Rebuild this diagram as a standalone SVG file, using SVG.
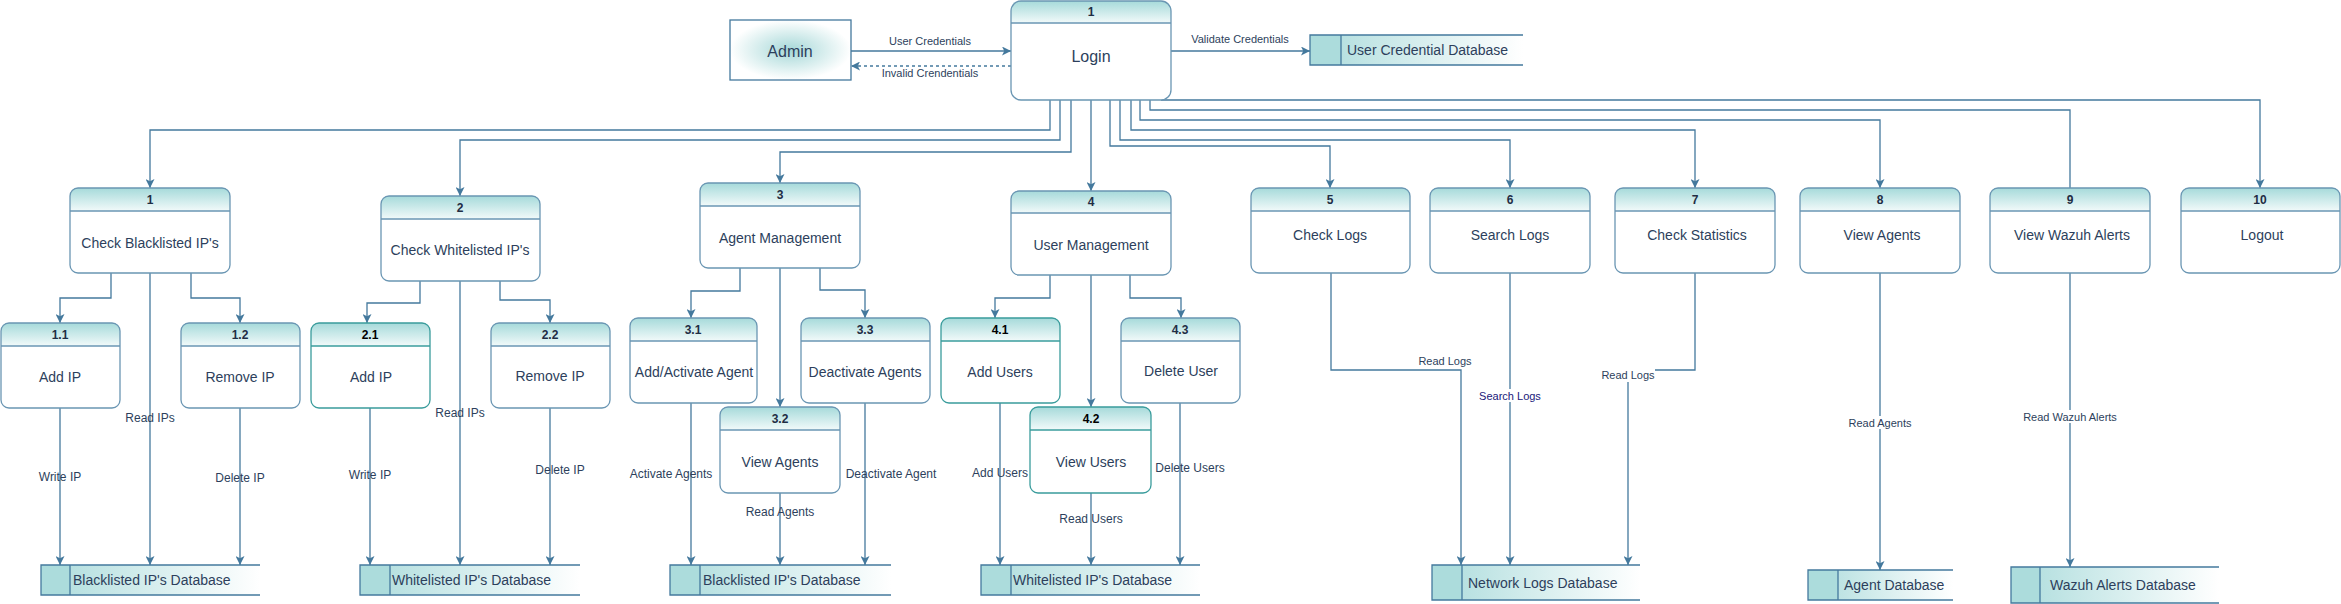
<svg xmlns="http://www.w3.org/2000/svg" width="2341" height="604" viewBox="0 0 2341 604">
<defs>
<linearGradient id="hdr" x1="0" y1="0" x2="0" y2="1"><stop offset="0" stop-color="#a6dada"/><stop offset="1" stop-color="#f2fafa"/></linearGradient>
<linearGradient id="dbg" x1="0" y1="0" x2="1" y2="0"><stop offset="0" stop-color="#acdcdc"/><stop offset="1" stop-color="#ffffff"/></linearGradient>
<radialGradient id="adm" cx="0.5" cy="0.5" r="0.5"><stop offset="0" stop-color="#a6d8d8"/><stop offset="1" stop-color="#ffffff"/></radialGradient>
<marker id="arr" viewBox="0 0 10 10" refX="10" refY="5" markerWidth="9" markerHeight="9" orient="auto" markerUnits="userSpaceOnUse"><path d="M0,0 L10,5 L0,10 L2.5,5 Z" fill="#44799d"/></marker>
</defs>
<style>
.bg{fill:#fff;stroke:none}
.ol{fill:none;stroke:#6a96b3;stroke-width:1.3}
.olt{fill:none;stroke:#3a9c9c;stroke-width:1.3}
.hd{fill:url(#hdr);stroke:none}
.sep{stroke:#6a96b3;stroke-width:1.3}
.sept{stroke:#3a9c9c;stroke-width:1.3}
.num{font-family:"Liberation Sans",Arial,sans-serif;font-size:12px;font-weight:bold;fill:#1f2d44;text-anchor:middle}
.numk{font-family:"Liberation Sans",Arial,sans-serif;font-size:12px;font-weight:bold;fill:#000;text-anchor:middle}
.lbl{font-family:"Liberation Sans",Arial,sans-serif;font-size:14px;fill:#2d3f5c;text-anchor:middle}
.big{font-family:"Liberation Sans",Arial,sans-serif;font-size:16px;fill:#2d3f5c;text-anchor:middle}
.dbt{font-family:"Liberation Sans",Arial,sans-serif;font-size:14px;fill:#2d3f5c}
.el{font-family:"Liberation Sans",Arial,sans-serif;font-size:11px;fill:#2d3f5c;text-anchor:middle}
.el12{font-family:"Liberation Sans",Arial,sans-serif;font-size:12px;fill:#2d3f5c;text-anchor:middle}
.navy{fill:#20207a}
.cn{fill:none;stroke:#44799d;stroke-width:1.3}
.ar{marker-end:url(#arr)}
.dash{stroke-dasharray:3,3}
.dbf{fill:url(#dbg);stroke:none}
.dbb{fill:#acdcdc;stroke:none}
.dbl{fill:none;stroke:#44799d;stroke-width:1.3}
.lb{fill:#fff}
</style>

<g id="connectors">
<path class="cn ar" d="M851,51 H1011"/>
<path class="cn ar dash" d="M1011,66 H851"/>
<path class="cn ar" d="M1171,51 H1310"/>
<path class="cn ar" d="M1050,100 V130 H150 V188"/>
<path class="cn ar" d="M1060,100 V140 H460 V196"/>
<path class="cn ar" d="M1071,100 V152 H780 V183"/>
<path class="cn ar" d="M1091,100 V191"/>
<path class="cn ar" d="M1110,100 V146 H1330 V188"/>
<path class="cn ar" d="M1120,100 V140 H1510 V188"/>
<path class="cn ar" d="M1131,100 V130 H1695 V188"/>
<path class="cn ar" d="M1140,100 V120 H1880 V188"/>
<path class="cn" d="M1150,100 V110 H2070 V188"/>
<path class="cn ar" d="M1161,100 H2260 V188"/>
<path class="cn ar" d="M111,273 V298 H60 V323"/>
<path class="cn ar" d="M191,273 V298 H240 V323"/>
<path class="cn ar" d="M150,273 V565"/>
<path class="cn ar" d="M60,408 V565"/>
<path class="cn ar" d="M240,408 V565"/>
<path class="cn ar" d="M420,281 V303 H367 V323"/>
<path class="cn ar" d="M500,281 V300 H550 V323"/>
<path class="cn ar" d="M460,281 V565"/>
<path class="cn ar" d="M370,408 V565"/>
<path class="cn ar" d="M550,408 V565"/>
<path class="cn ar" d="M740,268 V291 H691 V318"/>
<path class="cn ar" d="M820,268 V290 H865 V318"/>
<path class="cn ar" d="M780,268 V407"/>
<path class="cn ar" d="M691,403 V565"/>
<path class="cn ar" d="M780,493 V565"/>
<path class="cn ar" d="M865,403 V565"/>
<path class="cn ar" d="M1050,275 V298 H995 V318"/>
<path class="cn ar" d="M1130,275 V298 H1181 V318"/>
<path class="cn ar" d="M1091,275 V407"/>
<path class="cn ar" d="M1000,403 V565"/>
<path class="cn ar" d="M1091,493 V565"/>
<path class="cn ar" d="M1180,403 V565"/>
<path class="cn ar" d="M1331,273 V370 H1461 V565"/>
<path class="cn ar" d="M1510,273 V565"/>
<path class="cn ar" d="M1695,273 V370 H1628 V565"/>
<path class="cn ar" d="M1880,273 V570"/>
<path class="cn ar" d="M2070,273 V567"/>
<text class="el" x="930" y="45">User Credentials</text>
<text class="el" x="930" y="77">Invalid Crendentials</text>
<text class="el" x="1240" y="43">Validate Credentials</text>
<text class="el12" x="150" y="422">Read IPs</text>
<text class="el12" x="60" y="481">Write IP</text>
<text class="el12" x="240" y="482">Delete IP</text>
<text class="el12" x="460" y="417">Read IPs</text>
<text class="el12" x="370" y="479">Write IP</text>
<text class="el12" x="560" y="474">Delete IP</text>
<text class="el12" x="671" y="478">Activate Agents</text>
<text class="el12" x="891" y="478">Deactivate Agent</text>
<text class="el12" x="780" y="516">Read Agents</text>
<text class="el12" x="1000" y="477">Add Users</text>
<text class="el12" x="1091" y="523">Read Users</text>
<text class="el12" x="1190" y="472">Delete Users</text>
<text class="el" x="1445" y="365">Read Logs</text>
<rect class="lb" x="1480" y="389" width="60" height="13"/>
<text class="el navy" x="1510" y="400">Search Logs</text>
<rect class="lb" x="1601" y="369" width="54" height="13"/>
<text class="el" x="1628" y="379">Read Logs</text>
<rect class="lb" x="1849" y="416" width="62" height="13"/>
<text class="el" x="1880" y="427">Read Agents</text>
<rect class="lb" x="2023" y="410" width="94" height="13"/>
<text class="el" x="2070" y="421">Read Wazuh Alerts</text>
</g>

<g id="admin">
<rect x="730" y="20" width="121" height="60" fill="url(#adm)" stroke="#44799d" stroke-width="1.3"/>
<text class="big" x="790" y="57">Admin</text>
</g>

<g id="login">
<rect class="bg" x="1011" y="1" width="160" height="99" rx="10"/>
<path class="hd" d="M1011,23 V11 Q1011,1 1021,1 H1161 Q1171,1 1171,11 V23 Z"/>
<line class="sep" x1="1011" y1="23" x2="1171" y2="23"/>
<rect class="ol" x="1011" y="1" width="160" height="99" rx="10" stroke="#4f7f9f"/>
<text class="num" x="1091" y="16">1</text>
<text class="big" x="1091" y="62">Login</text>
</g>

<g id="db-usercred">
<rect class="dbf" x="1310" y="35" width="213" height="30"/>
<rect class="dbb" x="1310" y="35" width="31" height="30"/>
<path class="dbl" d="M1523,35 H1310 V65 H1523 M1341,35 V65"/>
<text class="dbt" x="1347" y="55">User Credential Database</text>
</g>

<g id="p1">
<rect class="bg" x="70" y="188" width="160" height="85" rx="8"/>
<path class="hd" d="M70,211 V196 Q70,188 78,188 H222 Q230,188 230,196 V211 Z"/>
<line class="sep" x1="70" y1="211" x2="230" y2="211"/>
<rect class="ol" x="70" y="188" width="160" height="85" rx="8"/>
<text class="num" x="150" y="204">1</text>
<text class="lbl" x="150" y="248">Check Blacklisted IP's</text>
</g>
<g id="p2">
<rect class="bg" x="381" y="196" width="159" height="85" rx="8"/>
<path class="hd" d="M381,219 V204 Q381,196 389,196 H532 Q540,196 540,204 V219 Z"/>
<line class="sep" x1="381" y1="219" x2="540" y2="219"/>
<rect class="ol" x="381" y="196" width="159" height="85" rx="8"/>
<text class="num" x="460" y="212">2</text>
<text class="lbl" x="460" y="255">Check Whitelisted IP's</text>
</g>
<g id="p3">
<rect class="bg" x="700" y="183" width="160" height="85" rx="8"/>
<path class="hd" d="M700,206 V191 Q700,183 708,183 H852 Q860,183 860,191 V206 Z"/>
<line class="sep" x1="700" y1="206" x2="860" y2="206"/>
<rect class="ol" x="700" y="183" width="160" height="85" rx="8"/>
<text class="num" x="780" y="199">3</text>
<text class="lbl" x="780" y="243">Agent Management</text>
</g>
<g id="p4">
<rect class="bg" x="1011" y="191" width="160" height="84" rx="8"/>
<path class="hd" d="M1011,213 V199 Q1011,191 1019,191 H1163 Q1171,191 1171,199 V213 Z"/>
<line class="sep" x1="1011" y1="213" x2="1171" y2="213"/>
<rect class="ol" x="1011" y="191" width="160" height="84" rx="8"/>
<text class="num" x="1091" y="206">4</text>
<text class="lbl" x="1091" y="250">User Management</text>
</g>
<g id="p5">
<rect class="bg" x="1251" y="188" width="159" height="85" rx="8"/>
<path class="hd" d="M1251,211 V196 Q1251,188 1259,188 H1402 Q1410,188 1410,196 V211 Z"/>
<line class="sep" x1="1251" y1="211" x2="1410" y2="211"/>
<rect class="ol" x="1251" y="188" width="159" height="85" rx="8"/>
<text class="num" x="1330" y="204">5</text>
<text class="lbl" x="1330" y="240">Check Logs</text>
</g>
<g id="p6">
<rect class="bg" x="1430" y="188" width="160" height="85" rx="8"/>
<path class="hd" d="M1430,211 V196 Q1430,188 1438,188 H1582 Q1590,188 1590,196 V211 Z"/>
<line class="sep" x1="1430" y1="211" x2="1590" y2="211"/>
<rect class="ol" x="1430" y="188" width="160" height="85" rx="8"/>
<text class="num" x="1510" y="204">6</text>
<text class="lbl" x="1510" y="240">Search Logs</text>
</g>
<g id="p7">
<rect class="bg" x="1615" y="188" width="160" height="85" rx="8"/>
<path class="hd" d="M1615,211 V196 Q1615,188 1623,188 H1767 Q1775,188 1775,196 V211 Z"/>
<line class="sep" x1="1615" y1="211" x2="1775" y2="211"/>
<rect class="ol" x="1615" y="188" width="160" height="85" rx="8"/>
<text class="num" x="1695" y="204">7</text>
<text class="lbl" x="1697" y="240">Check Statistics</text>
</g>
<g id="p8">
<rect class="bg" x="1800" y="188" width="160" height="85" rx="8"/>
<path class="hd" d="M1800,211 V196 Q1800,188 1808,188 H1952 Q1960,188 1960,196 V211 Z"/>
<line class="sep" x1="1800" y1="211" x2="1960" y2="211"/>
<rect class="ol" x="1800" y="188" width="160" height="85" rx="8"/>
<text class="num" x="1880" y="204">8</text>
<text class="lbl" x="1882" y="240">View Agents</text>
</g>
<g id="p9">
<rect class="bg" x="1990" y="188" width="160" height="85" rx="8"/>
<path class="hd" d="M1990,211 V196 Q1990,188 1998,188 H2142 Q2150,188 2150,196 V211 Z"/>
<line class="sep" x1="1990" y1="211" x2="2150" y2="211"/>
<rect class="ol" x="1990" y="188" width="160" height="85" rx="8"/>
<text class="num" x="2070" y="204">9</text>
<text class="lbl" x="2072" y="240">View Wazuh Alerts</text>
</g>
<g id="p10">
<rect class="bg" x="2181" y="188" width="159" height="85" rx="8"/>
<path class="hd" d="M2181,211 V196 Q2181,188 2189,188 H2332 Q2340,188 2340,196 V211 Z"/>
<line class="sep" x1="2181" y1="211" x2="2340" y2="211"/>
<rect class="ol" x="2181" y="188" width="159" height="85" rx="8"/>
<text class="num" x="2260" y="204">10</text>
<text class="lbl" x="2262" y="240">Logout</text>
</g>

<g id="p1-1">
<rect class="bg" x="1" y="323" width="119" height="85" rx="8"/>
<path class="hd" d="M1,346 V331 Q1,323 9,323 H112 Q120,323 120,331 V346 Z"/>
<line class="sep" x1="1" y1="346" x2="120" y2="346"/>
<rect class="ol" x="1" y="323" width="119" height="85" rx="8"/>
<text class="num" x="60" y="339">1.1</text>
<text class="lbl" x="60" y="382">Add IP</text>
</g>
<g id="p1-2">
<rect class="bg" x="181" y="323" width="119" height="85" rx="8"/>
<path class="hd" d="M181,346 V331 Q181,323 189,323 H292 Q300,323 300,331 V346 Z"/>
<line class="sep" x1="181" y1="346" x2="300" y2="346"/>
<rect class="ol" x="181" y="323" width="119" height="85" rx="8"/>
<text class="num" x="240" y="339">1.2</text>
<text class="lbl" x="240" y="382">Remove IP</text>
</g>
<g id="p2-1">
<rect class="bg" x="311" y="323" width="119" height="85" rx="8"/>
<path class="hd" d="M311,346 V331 Q311,323 319,323 H422 Q430,323 430,331 V346 Z"/>
<line class="sept" x1="311" y1="346" x2="430" y2="346"/>
<rect class="olt" x="311" y="323" width="119" height="85" rx="8"/>
<text class="numk" x="370" y="339">2.1</text>
<text class="lbl" x="371" y="382">Add IP</text>
</g>
<g id="p2-2">
<rect class="bg" x="491" y="323" width="119" height="85" rx="8"/>
<path class="hd" d="M491,346 V331 Q491,323 499,323 H602 Q610,323 610,331 V346 Z"/>
<line class="sep" x1="491" y1="346" x2="610" y2="346"/>
<rect class="ol" x="491" y="323" width="119" height="85" rx="8"/>
<text class="num" x="550" y="339">2.2</text>
<text class="lbl" x="550" y="381">Remove IP</text>
</g>
<g id="p3-1">
<rect class="bg" x="630" y="318" width="127" height="85" rx="8"/>
<path class="hd" d="M630,341 V326 Q630,318 638,318 H749 Q757,318 757,326 V341 Z"/>
<line class="sep" x1="630" y1="341" x2="757" y2="341"/>
<rect class="ol" x="630" y="318" width="127" height="85" rx="8"/>
<text class="num" x="693" y="334">3.1</text>
<text class="lbl" x="694" y="377">Add/Activate Agent</text>
</g>
<g id="p3-2">
<rect class="bg" x="720" y="407" width="120" height="86" rx="8"/>
<path class="hd" d="M720,430 V415 Q720,407 728,407 H832 Q840,407 840,415 V430 Z"/>
<line class="sep" x1="720" y1="430" x2="840" y2="430"/>
<rect class="ol" x="720" y="407" width="120" height="86" rx="8"/>
<text class="num" x="780" y="423">3.2</text>
<text class="lbl" x="780" y="467">View Agents</text>
</g>
<g id="p3-3">
<rect class="bg" x="801" y="318" width="129" height="85" rx="8"/>
<path class="hd" d="M801,341 V326 Q801,318 809,318 H922 Q930,318 930,326 V341 Z"/>
<line class="sep" x1="801" y1="341" x2="930" y2="341"/>
<rect class="ol" x="801" y="318" width="129" height="85" rx="8"/>
<text class="num" x="865" y="334">3.3</text>
<text class="lbl" x="865" y="377">Deactivate Agents</text>
</g>
<g id="p4-1">
<rect class="bg" x="941" y="318" width="119" height="85" rx="8"/>
<path class="hd" d="M941,341 V326 Q941,318 949,318 H1052 Q1060,318 1060,326 V341 Z"/>
<line class="sept" x1="941" y1="341" x2="1060" y2="341"/>
<rect class="olt" x="941" y="318" width="119" height="85" rx="8"/>
<text class="numk" x="1000" y="334">4.1</text>
<text class="lbl" x="1000" y="377">Add Users</text>
</g>
<g id="p4-2">
<rect class="bg" x="1030" y="407" width="121" height="86" rx="8"/>
<path class="hd" d="M1030,430 V415 Q1030,407 1038,407 H1143 Q1151,407 1151,415 V430 Z"/>
<line class="sept" x1="1030" y1="430" x2="1151" y2="430"/>
<rect class="olt" x="1030" y="407" width="121" height="86" rx="8"/>
<text class="numk" x="1091" y="423">4.2</text>
<text class="lbl" x="1091" y="467">View Users</text>
</g>
<g id="p4-3">
<rect class="bg" x="1121" y="318" width="119" height="85" rx="8"/>
<path class="hd" d="M1121,341 V326 Q1121,318 1129,318 H1232 Q1240,318 1240,326 V341 Z"/>
<line class="sep" x1="1121" y1="341" x2="1240" y2="341"/>
<rect class="ol" x="1121" y="318" width="119" height="85" rx="8"/>
<text class="num" x="1180" y="334">4.3</text>
<text class="lbl" x="1181" y="376">Delete User</text>
</g>

<g id="db-black1">
<rect class="dbf" x="41" y="565" width="219" height="30"/>
<rect class="dbb" x="41" y="565" width="29" height="30"/>
<path class="dbl" d="M260,565 H41 V595 H260 M70,565 V595"/>
<text class="dbt" x="73" y="585">Blacklisted IP's Database</text>
</g>
<g id="db-white1">
<rect class="dbf" x="360" y="565" width="220" height="30"/>
<rect class="dbb" x="360" y="565" width="30" height="30"/>
<path class="dbl" d="M580,565 H360 V595 H580 M390,565 V595"/>
<text class="dbt" x="392" y="585">Whitelisted IP's Database</text>
</g>
<g id="db-black2">
<rect class="dbf" x="670" y="565" width="221" height="30"/>
<rect class="dbb" x="670" y="565" width="30" height="30"/>
<path class="dbl" d="M891,565 H670 V595 H891 M700,565 V595"/>
<text class="dbt" x="703" y="585">Blacklisted IP's Database</text>
</g>
<g id="db-white2">
<rect class="dbf" x="981" y="565" width="219" height="30"/>
<rect class="dbb" x="981" y="565" width="30" height="30"/>
<path class="dbl" d="M1200,565 H981 V595 H1200 M1011,565 V595"/>
<text class="dbt" x="1013" y="585">Whitelisted IP's Database</text>
</g>
<g id="db-netlogs">
<rect class="dbf" x="1432" y="565" width="208" height="35"/>
<rect class="dbb" x="1432" y="565" width="30" height="35"/>
<path class="dbl" d="M1640,565 H1432 V600 H1640 M1462,565 V600"/>
<text class="dbt" x="1468" y="588">Network Logs Database</text>
</g>
<g id="db-agent">
<rect class="dbf" x="1808" y="570" width="145" height="30"/>
<rect class="dbb" x="1808" y="570" width="30" height="30"/>
<path class="dbl" d="M1953,570 H1808 V600 H1953 M1838,570 V600"/>
<text class="dbt" x="1844" y="590">Agent Database</text>
</g>
<g id="db-wazuh">
<rect class="dbf" x="2011" y="567" width="208" height="36"/>
<rect class="dbb" x="2011" y="567" width="29" height="36"/>
<path class="dbl" d="M2219,567 H2011 V603 H2219 M2040,567 V603"/>
<text class="dbt" x="2050" y="590">Wazuh Alerts Database</text>
</g>
</svg>
